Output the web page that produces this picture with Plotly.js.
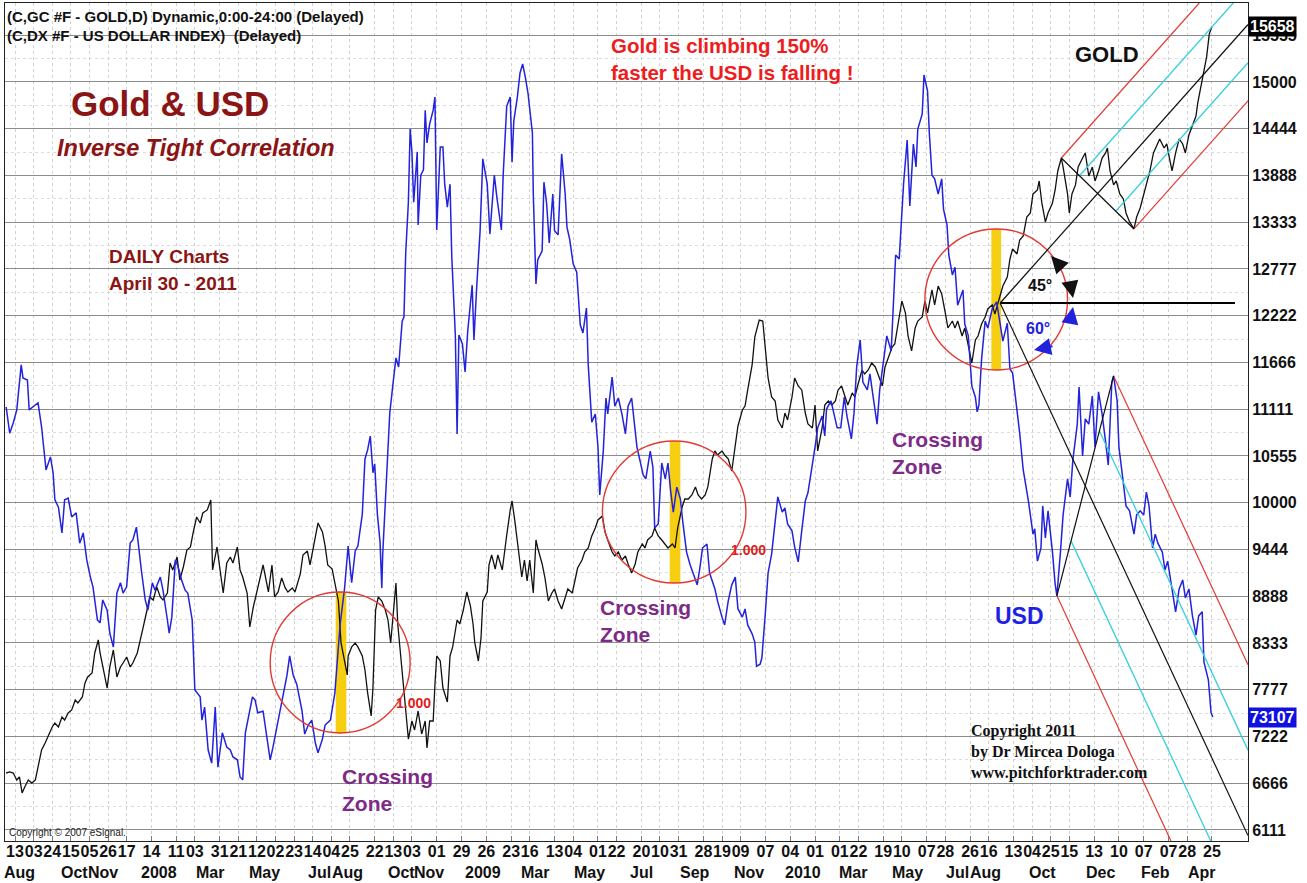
<!DOCTYPE html>
<html><head><meta charset="utf-8">
<script src="https://cdn.plot.ly/plotly-3.0.1.min.js"></script>
<style>html,body{margin:0;padding:0;background:#fff}#chart{width:1307px;height:883px}</style>
</head><body><div id="chart"></div>
<script>
// ---------- DATA ----------
// x = days since 2007-08-13 ; gold in chart units (price x 10) ; USD index in points
const baseDate = Date.UTC(2007, 7, 13);

const goldPts = [[-10,6788],[-6,6800],[-2,6788],[2,6705],[5,6741],[8,6551],[11,6622],[15,6705],[19,6669],[23,6705],[26,6860],[30,7062],[34,7145],[37,7216],[42,7335],[45,7382],[49,7335],[53,7454],[56,7418],[60,7501],[64,7537],[68,7656],[71,7620],[76,7691],[79,7858],[82,7929],[87,7977],[90,8214],[94,8369],[96,8214],[99,8048],[104,7798],[107,8048],[111,8250],[115,7929],[119,8048],[122,8095],[126,8167],[130,8048],[133,8095],[138,8214],[141,8369],[144,8488],[149,8725],[152,8880],[156,8844],[160,8999],[164,8880],[167,8844],[172,8927],[175,9284],[178,9201],[183,9355],[186,9082],[190,9236],[194,9438],[198,9474],[201,9640],[205,9830],[209,9759],[212,9878],[217,9914],[221,10032],[223,9201],[228,9474],[231,9236],[235,8927],[239,9284],[243,9355],[246,9284],[251,9474],[254,9201],[257,9117],[262,8927],[265,8523],[269,8761],[274,8987],[280,9260],[286,8939],[290,9260],[293,8880],[297,8939],[301,9106],[305,8987],[308,8939],[313,8987],[316,8939],[322,9153],[325,9379],[330,9426],[333,9260],[339,9593],[342,9759],[347,9652],[350,9486],[353,9260],[358,9212],[361,9046],[365,8832],[368,8333],[370,8226],[375,7953],[376,8179],[380,8286],[384,8333],[387,8286],[392,8179],[395,8012],[398,7739],[402,7466],[404,7798],[407,8725],[410,8880],[414,8832],[418,8725],[421,8606],[424,8333],[427,8725],[430,9046],[432,8559],[437,8012],[440,7680],[444,7192],[448,7406],[451,7299],[455,7525],[459,7252],[463,7406],[465,7085],[468,7406],[472,7406],[474,7846],[476,8179],[480,8119],[483,7798],[488,7632],[491,8179],[494,8286],[499,8606],[502,8559],[506,8725],[510,8939],[514,8773],[517,8559],[519,8333],[523,8119],[526,8393],[528,8832],[533,8939],[535,9260],[538,9379],[542,9212],[545,9379],[550,9200],[553,9486],[555,9616],[559,9914],[561,10021],[564,9795],[568,9462],[572,9117],[575,9319],[578,9070],[581,9319],[585,8927],[588,9557],[590,9462],[595,9272],[598,9117],[602,8832],[606,8927],[609,8975],[613,8832],[617,8737],[621,8880],[624,8975],[629,8927],[632,9070],[635,9224],[640,9319],[643,9414],[647,9462],[651,9605],[655,9700],[658,9795],[663,9842],[666,9652],[669,9557],[674,9414],[677,9367],[681,9414],[685,9319],[689,9367],[692,9272],[696,9165],[700,9272],[703,9414],[708,9510],[711,9462],[714,9557],[719,9605],[722,9700],[726,9605],[730,9557],[734,9510],[737,9462],[742,9510],[745,9462],[748,9700],[753,9949],[756,10044],[760,10044],[764,10092],[768,10187],[771,10092],[775,10044],[779,10092],[782,10187],[787,10520],[790,10615],[793,10567],[798,10615],[801,10567],[805,10520],[809,10377],[813,10722],[816,10912],[821,11102],[824,11149],[827,11340],[832,11637],[835,11969],[840,12171],[844,12159],[847,11803],[850,11482],[854,11256],[858,11209],[861,10983],[866,10888],[869,11066],[872,10983],[877,11256],[880,11482],[884,11387],[888,11340],[892,11066],[895,10935],[900,10888],[903,11161],[906,10615],[911,10888],[914,11161],[918,11209],[922,11161],[926,11209],[929,11340],[933,11387],[937,11256],[940,11161],[945,11304],[948,11256],[951,11387],[956,11577],[959,11530],[963,11577],[967,11660],[971,11613],[974,11530],[979,11387],[982,11613],[985,11708],[990,11850],[993,11886],[997,12124],[1001,12397],[1005,12255],[1008,11981],[1012,11803],[1016,12076],[1019,12159],[1024,12207],[1027,12397],[1030,12255],[1035,12528],[1038,12350],[1042,12575],[1046,12480],[1050,12255],[1053,12076],[1058,12159],[1061,12076],[1064,12159],[1069,11981],[1072,12076],[1076,11886],[1080,11660],[1084,11934],[1087,11981],[1091,12124],[1095,12207],[1098,12302],[1103,12350],[1106,12243],[1112,12468],[1115,12575],[1120,12682],[1123,12896],[1126,13015],[1131,12956],[1134,13122],[1138,13170],[1142,13395],[1146,13443],[1149,13669],[1154,13716],[1156,13823],[1159,13562],[1163,13336],[1166,13443],[1171,13562],[1174,13716],[1177,13942],[1181,14096],[1183,13989],[1188,13669],[1190,13443],[1193,13669],[1197,13776],[1200,13989],[1205,14096],[1208,14156],[1212,13882],[1216,13989],[1219,13823],[1223,13942],[1227,14096],[1231,14156],[1233,14215],[1236,13942],[1240,13776],[1243,13823],[1247,13669],[1251,13609],[1254,13443],[1258,13336],[1263,13253],[1266,13395],[1270,13502],[1274,13669],[1277,13776],[1281,13942],[1285,14156],[1289,14263],[1292,14322],[1297,14215],[1300,14263],[1303,14096],[1306,13942],[1310,14156],[1314,14322],[1318,14263],[1321,14156],[1325,14370],[1329,14488],[1333,14595],[1335,14750],[1338,14916],[1341,15083],[1345,15297],[1348,15570],[1351,15658]];

const usdPts = [[-10,80.69],[-6,80.05],[-2,80.30],[2,80.62],[7,81.72],[9,81.40],[14,81.35],[16,80.62],[20,80.69],[26,80.79],[30,80.20],[32,79.71],[35,79.15],[40,79.47],[43,79.08],[45,78.42],[49,78.24],[53,77.61],[56,78.42],[60,78.46],[64,78.00],[69,78.10],[73,77.36],[77,77.61],[81,76.95],[85,76.53],[88,76.29],[93,75.48],[96,75.41],[99,75.97],[104,75.72],[107,75.16],[111,74.82],[115,76.14],[119,76.39],[122,76.14],[126,76.29],[130,77.36],[133,77.44],[137,77.75],[139,77.36],[143,76.63],[147,75.97],[150,75.72],[155,76.39],[158,76.21],[164,76.53],[167,76.21],[172,75.48],[174,75.16],[177,75.55],[181,76.95],[184,76.78],[188,76.46],[192,76.21],[195,76.14],[200,75.48],[203,73.77],[209,73.60],[211,73.03],[214,73.35],[218,72.30],[222,71.98],[226,73.35],[229,71.88],[234,72.72],[239,72.37],[243,72.30],[246,72.13],[251,72.06],[254,71.64],[257,71.57],[260,72.72],[263,73.03],[268,73.60],[271,73.52],[274,73.21],[280,73.25],[288,72.06],[291,72.35],[299,73.25],[302,73.57],[307,74.13],[310,74.60],[314,74.13],[318,73.91],[324,73.25],[327,72.69],[331,72.91],[335,73.03],[339,72.47],[342,72.23],[347,72.57],[350,72.91],[356,73.03],[361,73.69],[367,75.38],[372,76.26],[376,77.29],[380,76.39],[384,77.17],[387,77.29],[392,78.07],[395,79.42],[398,79.64],[401,79.98],[404,79.08],[406,79.30],[409,78.07],[412,77.39],[414,76.26],[415,77.07],[420,79.08],[423,80.54],[427,81.33],[430,81.89],[433,81.67],[437,82.79],[439,82.89],[441,84.46],[444,85.70],[446,87.49],[448,86.93],[450,85.70],[454,86.93],[455,85.14],[458,86.36],[461,86.49],[463,87.95],[465,87.15],[468,87.61],[472,87.95],[474,88.27],[476,85.02],[480,87.05],[483,87.05],[485,86.14],[488,85.58],[491,86.14],[493,84.36],[497,82.45],[499,80.03],[501,82.45],[505,82.23],[508,81.55],[511,82.55],[516,83.67],[518,82.33],[521,83.58],[525,85.02],[528,86.76],[533,86.14],[536,84.92],[541,86.36],[544,85.80],[549,85.02],[551,86.36],[555,88.05],[559,88.27],[561,86.68],[563,87.69],[567,88.27],[570,88.86],[573,89.08],[576,88.76],[579,88.37],[584,87.39],[585,85.90],[588,83.70],[590,84.29],[595,84.51],[597,86.19],[600,85.68],[603,84.70],[607,85.90],[609,85.00],[613,84.90],[617,86.88],[621,85.90],[623,85.09],[626,84.80],[630,84.19],[634,83.99],[638,82.70],[641,82.50],[645,83.11],[647,81.72],[651,80.32],[655,80.52],[658,79.71],[660,78.54],[664,79.61],[667,80.91],[669,80.52],[674,81.42],[677,80.71],[681,80.91],[685,80.52],[689,80.03],[692,80.71],[696,80.91],[699,80.32],[702,79.71],[705,79.42],[709,79.03],[712,78.93],[717,79.61],[720,79.22],[722,77.73],[726,77.83],[730,79.32],[734,78.93],[737,79.32],[740,78.64],[743,78.12],[747,78.73],[751,78.44],[754,77.83],[758,77.14],[762,76.83],[765,76.63],[770,76.34],[773,76.75],[776,77.24],[781,77.34],[784,76.63],[790,76.24],[793,75.94],[798,75.55],[801,75.36],[805,75.94],[809,76.34],[813,76.53],[816,75.75],[821,75.55],[824,75.75],[827,75.36],[832,75.14],[835,74.94],[837,74.35],[841,74.40],[843,74.55],[847,75.68],[850,76.63],[854,77.09],[858,77.93],[861,78.49],[866,78.12],[869,78.22],[872,77.83],[877,77.66],[880,77.27],[884,76.90],[888,77.66],[892,78.39],[895,78.59],[900,79.25],[903,79.71],[906,80.18],[911,80.47],[914,79.98],[916,80.64],[921,80.84],[924,80.54],[928,80.18],[932,80.18],[936,80.93],[939,80.47],[944,79.91],[947,80.54],[950,81.67],[954,82.33],[957,81.30],[962,81.11],[965,81.50],[968,81.03],[973,80.27],[976,81.11],[980,81.77],[984,82.43],[989,82.06],[992,83.55],[994,84.41],[998,84.31],[1001,85.34],[1003,86.17],[1007,87.22],[1010,85.61],[1014,87.12],[1017,86.56],[1019,87.49],[1024,87.86],[1026,88.81],[1030,88.42],[1032,87.39],[1035,86.36],[1038,86.27],[1042,85.90],[1046,86.27],[1048,85.53],[1052,85.14],[1054,84.41],[1058,83.92],[1061,84.11],[1064,83.18],[1070,83.55],[1072,82.72],[1076,82.43],[1080,81.20],[1084,80.93],[1086,80.57],[1088,80.74],[1091,81.86],[1095,82.79],[1098,82.62],[1103,83.09],[1108,83.26],[1115,82.30],[1120,82.74],[1123,81.62],[1126,81.52],[1131,80.62],[1134,80.05],[1138,79.15],[1142,78.61],[1144,78.37],[1149,77.58],[1151,77.71],[1154,76.92],[1158,77.24],[1160,78.27],[1163,77.49],[1166,78.15],[1171,77.14],[1174,76.36],[1176,76.07],[1180,77.14],[1183,78.05],[1188,78.93],[1191,78.49],[1194,79.39],[1199,80.27],[1201,81.18],[1205,79.49],[1208,80.40],[1212,80.27],[1216,80.96],[1219,79.71],[1223,81.06],[1227,80.52],[1231,79.83],[1234,79.27],[1238,81.30],[1240,81.45],[1244,80.84],[1246,79.71],[1251,78.83],[1254,78.27],[1258,78.15],[1263,77.58],[1266,78.05],[1270,78.15],[1274,78.05],[1277,78.61],[1280,78.27],[1284,77.24],[1287,77.58],[1290,77.36],[1295,77.14],[1298,76.70],[1301,76.92],[1307,76.14],[1310,75.68],[1314,76.24],[1318,76.46],[1321,76.02],[1325,76.24],[1329,75.58],[1333,75.11],[1336,75.58],[1340,75.68],[1342,74.45],[1347,74.01],[1350,73.21],[1352,73.107]];

const dayTickDates = ['2007-08-13','2007-09-03','2007-09-24','2007-10-15','2007-11-05','2007-11-26','2007-12-17','2008-01-14','2008-02-11','2008-03-03','2008-03-31','2008-04-21','2008-05-12','2008-06-02','2008-06-23','2008-07-14','2008-08-04','2008-08-25','2008-09-22','2008-10-13','2008-11-03','2008-12-01','2008-12-29','2009-01-26','2009-02-23','2009-03-16','2009-04-13','2009-05-04','2009-06-01','2009-06-22','2009-07-20','2009-08-10','2009-08-31','2009-09-28','2009-10-19','2009-11-09','2009-12-07','2010-01-04','2010-02-01','2010-03-01','2010-03-22','2010-04-19','2010-05-10','2010-06-07','2010-06-28','2010-07-26','2010-08-16','2010-09-13','2010-10-04','2010-10-25','2010-11-15','2010-12-13','2011-01-10','2011-02-07','2011-03-07','2011-03-28','2011-04-25'];
const dayTickLabels = ['13','03','24','15','05','26','17','14','11','03','31','21','12','02','23','14','04','25','22','13','03','01','29','26','23','16','13','04','01','22','20','10','31','28','19','09','07','04','01','01','22','19','10','07','28','26','16','13','04','25','15','13','10','07','07','28','25'];

const monthDates = ['2007-08-18','2007-10-19','2007-11-20','2008-01-22','2008-03-20','2008-05-21','2008-07-22','2008-08-22','2008-10-22','2008-11-22','2009-01-22','2009-03-22','2009-05-22','2009-07-20','2009-09-18','2009-11-18','2010-01-18','2010-03-16','2010-05-16','2010-07-12','2010-08-12','2010-10-16','2010-12-20','2011-02-20','2011-04-14'];
const monthLabels = ['Aug','Oct','Nov','2008','Mar','May','Jul','Aug','Oct','Nov','2009','Mar','May','Jul','Sep','Nov','2010','Mar','May','Jul','Aug','Oct','Dec','Feb','Apr'];

const priceTickVals = [6111.1,6666.7,7222.2,7777.8,8333.3,8888.9,9444.4,10000,10555.6,11111.1,11666.7,12222.2,12777.8,13333.3,13888.9,14444.4,15000,15555.6];
const priceTickText = ['6111','6666','7222','7777','8333','8888','9444','10000','10555','11111','11666','12222','12777','13333','13888','14444','15000','15555'];

// pitchfork anchor points (pivot, high, low)
const goldForkDays = [1112, 1181, 1263];
const goldForkVals = [12373, 14096, 13253];
const usdForkDays = [1112, 1176, 1240];
const usdForkVals = [83.23, 76.07, 81.45];

// ---------- HELPERS ----------
const D = d => new Date(baseDate + d * 864e5).toISOString().slice(0, 19).replace('T', ' ');
const L = 5, T = 3, W = 1243, H = 838;
const P = (x, y) => ({xref: 'paper', yref: 'paper', x: (x - L) / W, y: (T + H - y) / H});
const X_MIN = -11.3, X_MAX = 1391.7;
const Y_RANGE = [5980, 15938], Y2_RANGE = [70.074, 90.572];
const FONT = 'Liberation Sans, Arial, sans-serif';
const RED = '#e23a33', CYAN = '#35d0dc';

function fork(days, vals, yref, vr) {
  const [a, b, c] = days.map((d, i) => ({d, v: vals[i]}));
  const m = {d: (b.d + c.d) / 2, v: (b.v + c.v) / 2};
  const s = (m.v - a.v) / (m.d - a.d);
  const ext = p => {
    let dE = X_MAX, vE = p.v + s * (dE - p.d);
    if (vE > vr[1]) { dE = p.d + (vr[1] - p.v) / s; vE = vr[1]; }
    if (vE < vr[0]) { dE = p.d + (vr[0] - p.v) / s; vE = vr[0]; }
    return {d: dE, v: vE};
  };
  const lerp = t => ({d: b.d + t * (c.d - b.d), v: b.v + t * (c.v - b.v)});
  const seg = (p, q, color, w) => ({type: 'line', xref: 'x', yref, x0: D(p.d), y0: p.v, x1: D(q.d), y1: q.v, line: {color, width: w}});
  const q1 = lerp(0.25), q3 = lerp(0.75);
  return [seg(a, ext(a), '#111', 1.2), seg(b, ext(b), RED, 1.2), seg(c, ext(c), RED, 1.2),
          seg(q1, ext(q1), CYAN, 1.3), seg(q3, ext(q3), CYAN, 1.3), seg(b, c, '#111', 1.2)];
}

// ---------- TRACES ----------
const traces = [
  {type: 'scatter', mode: 'lines', x: usdPts.map(p => D(p[0])), y: usdPts.map(p => p[1]), yaxis: 'y2',
   line: {color: '#2323dc', width: 1.5}, hoverinfo: 'skip'},
  {type: 'scatter', mode: 'lines', x: goldPts.map(p => D(p[0])), y: goldPts.map(p => p[1]),
   line: {color: '#111111', width: 1.3}, hoverinfo: 'skip'}
];

// ---------- SHAPES ----------
const circ = (d0, d1, v0, v1) => ({type: 'circle', xref: 'x', yref: 'y', x0: D(d0), x1: D(d1), y0: v0, y1: v1, line: {color: RED, width: 1.4}});
const bar = (d0, d1, v0, v1) => ({type: 'rect', xref: 'x', yref: 'y', x0: D(d0), x1: D(d1), y0: v0, y1: v1, fillcolor: '#f7cf12', line: {width: 0}, layer: 'between'});
const shapes = [
  bar(362, 374, 7264, 8939), bar(739, 751, 9046, 10733), bar(1102, 1113, 11577, 13253),
  circ(288, 446, 7264, 8939), circ(663, 825, 9046, 10733), circ(1027, 1188, 11577, 13253),
  {type: 'line', xref: 'x', yref: 'y', x0: D(goldForkDays[0]), x1: D(1377), y0: goldForkVals[0], y1: goldForkVals[0], line: {color: '#000', width: 2.2}},
  ...fork(goldForkDays, goldForkVals, 'y', Y_RANGE),
  ...fork(usdForkDays, usdForkVals, 'y2', Y2_RANGE)
];

// ---------- ANNOTATIONS ----------
const txt = (x, y, text, size, color, opts = {}) => Object.assign(P(x, y), {
  text, showarrow: false, xanchor: 'left', yanchor: 'middle', align: 'left',
  font: {family: FONT, size, color}}, opts);
const arrow = (x, y, ax, ay, color) => Object.assign(P(x, y), {
  text: '', showarrow: true, ax, ay, arrowhead: 2, arrowsize: 1.7, arrowwidth: 2, arrowcolor: color});

const goldLast = goldPts[goldPts.length - 1][1];
const usdLast = usdPts[usdPts.length - 1][1];

const annotations = [
  txt(5, 16, '<b>(C,GC #F - GOLD,D) Dynamic,0:00-24:00 (Delayed)</b>', 15, '#111'),
  txt(5, 36, '<b>(C,DX #F - US DOLLAR INDEX)  (Delayed)</b>', 15, '#111'),
  txt(170, 103, '<b>Gold &amp; USD</b>', 35, '#8b1414', {xanchor: 'center'}),
  txt(196, 148, '<b><i>Inverse Tight Correlation</i></b>', 23.5, '#8b1414', {xanchor: 'center'}),
  txt(107, 256, '<b>DAILY Charts</b>', 19, '#8b1414'),
  txt(107, 283, '<b>April 30 - 2011</b>', 19, '#8b1414'),
  txt(609, 59, '<b>Gold is climbing 150%<br>faster the USD is falling !</b>', 20.5, '#ee1c1c'),
  txt(1107, 55, '<b>GOLD</b>', 22, '#111', {xanchor: 'center'}),
  txt(1019, 616, '<b>USD</b>', 23, '#1f1fe6', {xanchor: 'center'}),
  txt(340, 790, '<b>Crossing<br>Zone</b>', 21, '#7d2b86'),
  txt(598, 621, '<b>Crossing<br>Zone</b>', 21, '#7d2b86'),
  txt(890, 453, '<b>Crossing<br>Zone</b>', 21, '#7d2b86'),
  txt(413, 703, '<b>1.000</b>', 14, '#e02020', {xanchor: 'center'}),
  txt(748, 550, '<b>1.000</b>', 14, '#e02020', {xanchor: 'center'}),
  txt(1040, 285, '<b>45°</b>', 16, '#111', {xanchor: 'center'}),
  txt(1038, 328, '<b>60°</b>', 16, '#2222dd', {xanchor: 'center'}),
  txt(969, 752, '<b>Copyright 2011<br>by Dr Mircea Dologa<br>www.pitchforktrader.com</b>', 16, '#111',
      {font: {family: 'Liberation Serif, Times New Roman, serif', size: 16, color: '#111'}}),
  txt(7, 832, 'Copyright © 2007 eSignal.', 10, '#222'),
  arrow(1051, 256, 13, 14, '#111'),
  arrow(1073, 298, -3, -16, '#111'),
  arrow(1073, 307, -3, 16, '#2222dd'),
  arrow(1034, 350, 20, -4, '#2222dd'),
  {xref: 'paper', x: 1, xanchor: 'left', yref: 'y', y: goldLast, yanchor: 'middle', showarrow: false,
   text: '<b>' + goldLast + '</b>', bgcolor: '#000', borderpad: 1, font: {family: FONT, size: 16, color: '#fff'}},
  {xref: 'paper', x: 1, xanchor: 'left', yref: 'y2', y: usdLast, yanchor: 'middle', showarrow: false,
   text: '<b>' + Math.round(usdLast * 1000) + '</b>', bgcolor: '#1010e0', borderpad: 1, font: {family: FONT, size: 16, color: '#fff'}},
  ...monthDates.map((d, i) => ({xref: 'x', yref: 'paper', x: d, y: (T + H - 873) / H, xanchor: 'center', yanchor: 'middle',
    showarrow: false, text: '<b>' + monthLabels[i] + '</b>', font: {family: FONT, size: 16, color: '#111'}}))
];

const minorVals = priceTickVals.slice(1).map((v, i) => (v + priceTickVals[i]) / 2);

const layout = {
  width: 1307, height: 883, margin: {l: L, r: 1307 - L - W, t: T, b: 883 - T - H},
  paper_bgcolor: '#fff', plot_bgcolor: '#fff', showlegend: false, hovermode: false,
  xaxis: {type: 'date', range: [D(X_MIN), D(X_MAX)], tickmode: 'array', tickvals: dayTickDates,
    ticktext: dayTickLabels.map(t => '<b>' + t + '</b>'), tickangle: 0, ticklabelstandoff: -4,
    tickfont: {family: FONT, size: 16, color: '#111'}, ticks: 'inside', ticklen: 5, tickcolor: '#777',
    showgrid: true, gridcolor: '#d2d2d2', griddash: 'dot', gridwidth: 1,
    showline: true, linecolor: '#222', linewidth: 1, mirror: true, zeroline: false, fixedrange: true},
  yaxis: {range: Y_RANGE, side: 'right', tickmode: 'array', tickvals: priceTickVals,
    ticktext: priceTickText.map(t => '<b>' + t + '</b>'), tickfont: {family: FONT, size: 16, color: '#111'},
    ticks: '', showgrid: true, gridcolor: '#8c8c8c', gridwidth: 1,
    minor: {tickvals: minorVals, showgrid: true, gridcolor: '#dddddd', griddash: 'dot', ticks: ''},
    showline: true, linecolor: '#222', linewidth: 1, mirror: true, zeroline: false, fixedrange: true},
  yaxis2: {range: Y2_RANGE, overlaying: 'y', side: 'right', visible: false, fixedrange: true},
  shapes, annotations
};

Plotly.newPlot('chart', traces, layout, {displayModeBar: false, staticPlot: true});
</script></body></html>
